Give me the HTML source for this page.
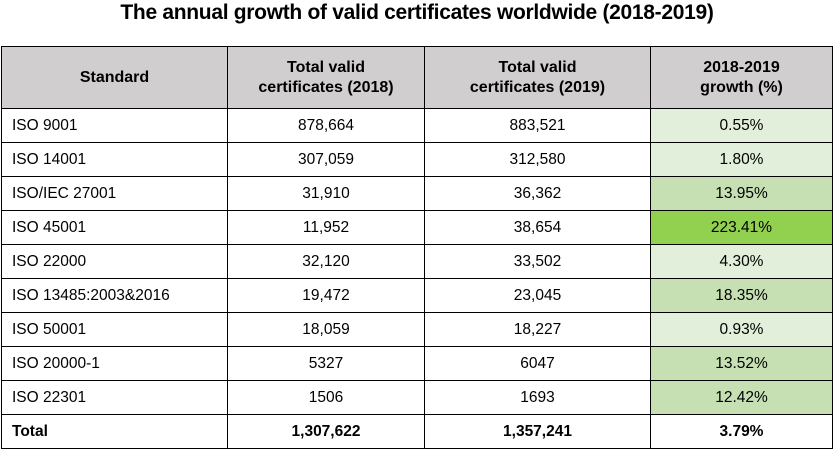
<!DOCTYPE html>
<html><head><meta charset="utf-8"><style>
body{margin:0;width:834px;height:457px;background:#fff;overflow:hidden;font-family:"Liberation Sans",sans-serif;position:relative}
#title{position:absolute;left:0;top:1px;width:834px;text-align:center;font-weight:bold;font-size:21px;letter-spacing:-0.3px;color:#000}
table{position:absolute;left:1px;top:46px;border-collapse:collapse;table-layout:fixed}
td,th{border:1.5px solid #000;padding:0;text-align:center;font-size:15.5px;color:#000;height:33px}
th{background:#d0cece;font-size:16px;font-weight:bold;height:61px;line-height:20px}
td.l{text-align:left;padding-left:10px}
tr.tot td{font-weight:bold}
.g1{background:#e2efda}.g2{background:#c6e0b4}.g3{background:#92d050}
</style></head><body>
<div id="title">The annual growth of valid certificates worldwide (2018-2019)</div>
<table>
<colgroup><col style="width:226px"><col style="width:197px"><col style="width:226px"><col style="width:182px"></colgroup>
<tr><th>Standard</th><th>Total valid<br>certificates (2018)</th><th>Total valid<br>certificates (2019)</th><th>2018-2019<br>growth (%)</th></tr>
<tr><td class="l">ISO 9001</td><td>878,664</td><td>883,521</td><td class="g1">0.55%</td></tr>
<tr><td class="l">ISO 14001</td><td>307,059</td><td>312,580</td><td class="g1">1.80%</td></tr>
<tr><td class="l">ISO/IEC 27001</td><td>31,910</td><td>36,362</td><td class="g2">13.95%</td></tr>
<tr><td class="l">ISO 45001</td><td>11,952</td><td>38,654</td><td class="g3">223.41%</td></tr>
<tr><td class="l">ISO 22000</td><td>32,120</td><td>33,502</td><td class="g1">4.30%</td></tr>
<tr><td class="l">ISO 13485:2003&amp;2016</td><td>19,472</td><td>23,045</td><td class="g2">18.35%</td></tr>
<tr><td class="l">ISO 50001</td><td>18,059</td><td>18,227</td><td class="g1">0.93%</td></tr>
<tr><td class="l">ISO 20000-1</td><td>5327</td><td>6047</td><td class="g2">13.52%</td></tr>
<tr><td class="l">ISO 22301</td><td>1506</td><td>1693</td><td class="g2">12.42%</td></tr>
<tr class="tot"><td class="l">Total</td><td>1,307,622</td><td>1,357,241</td><td>3.79%</td></tr>
</table>
</body></html>
